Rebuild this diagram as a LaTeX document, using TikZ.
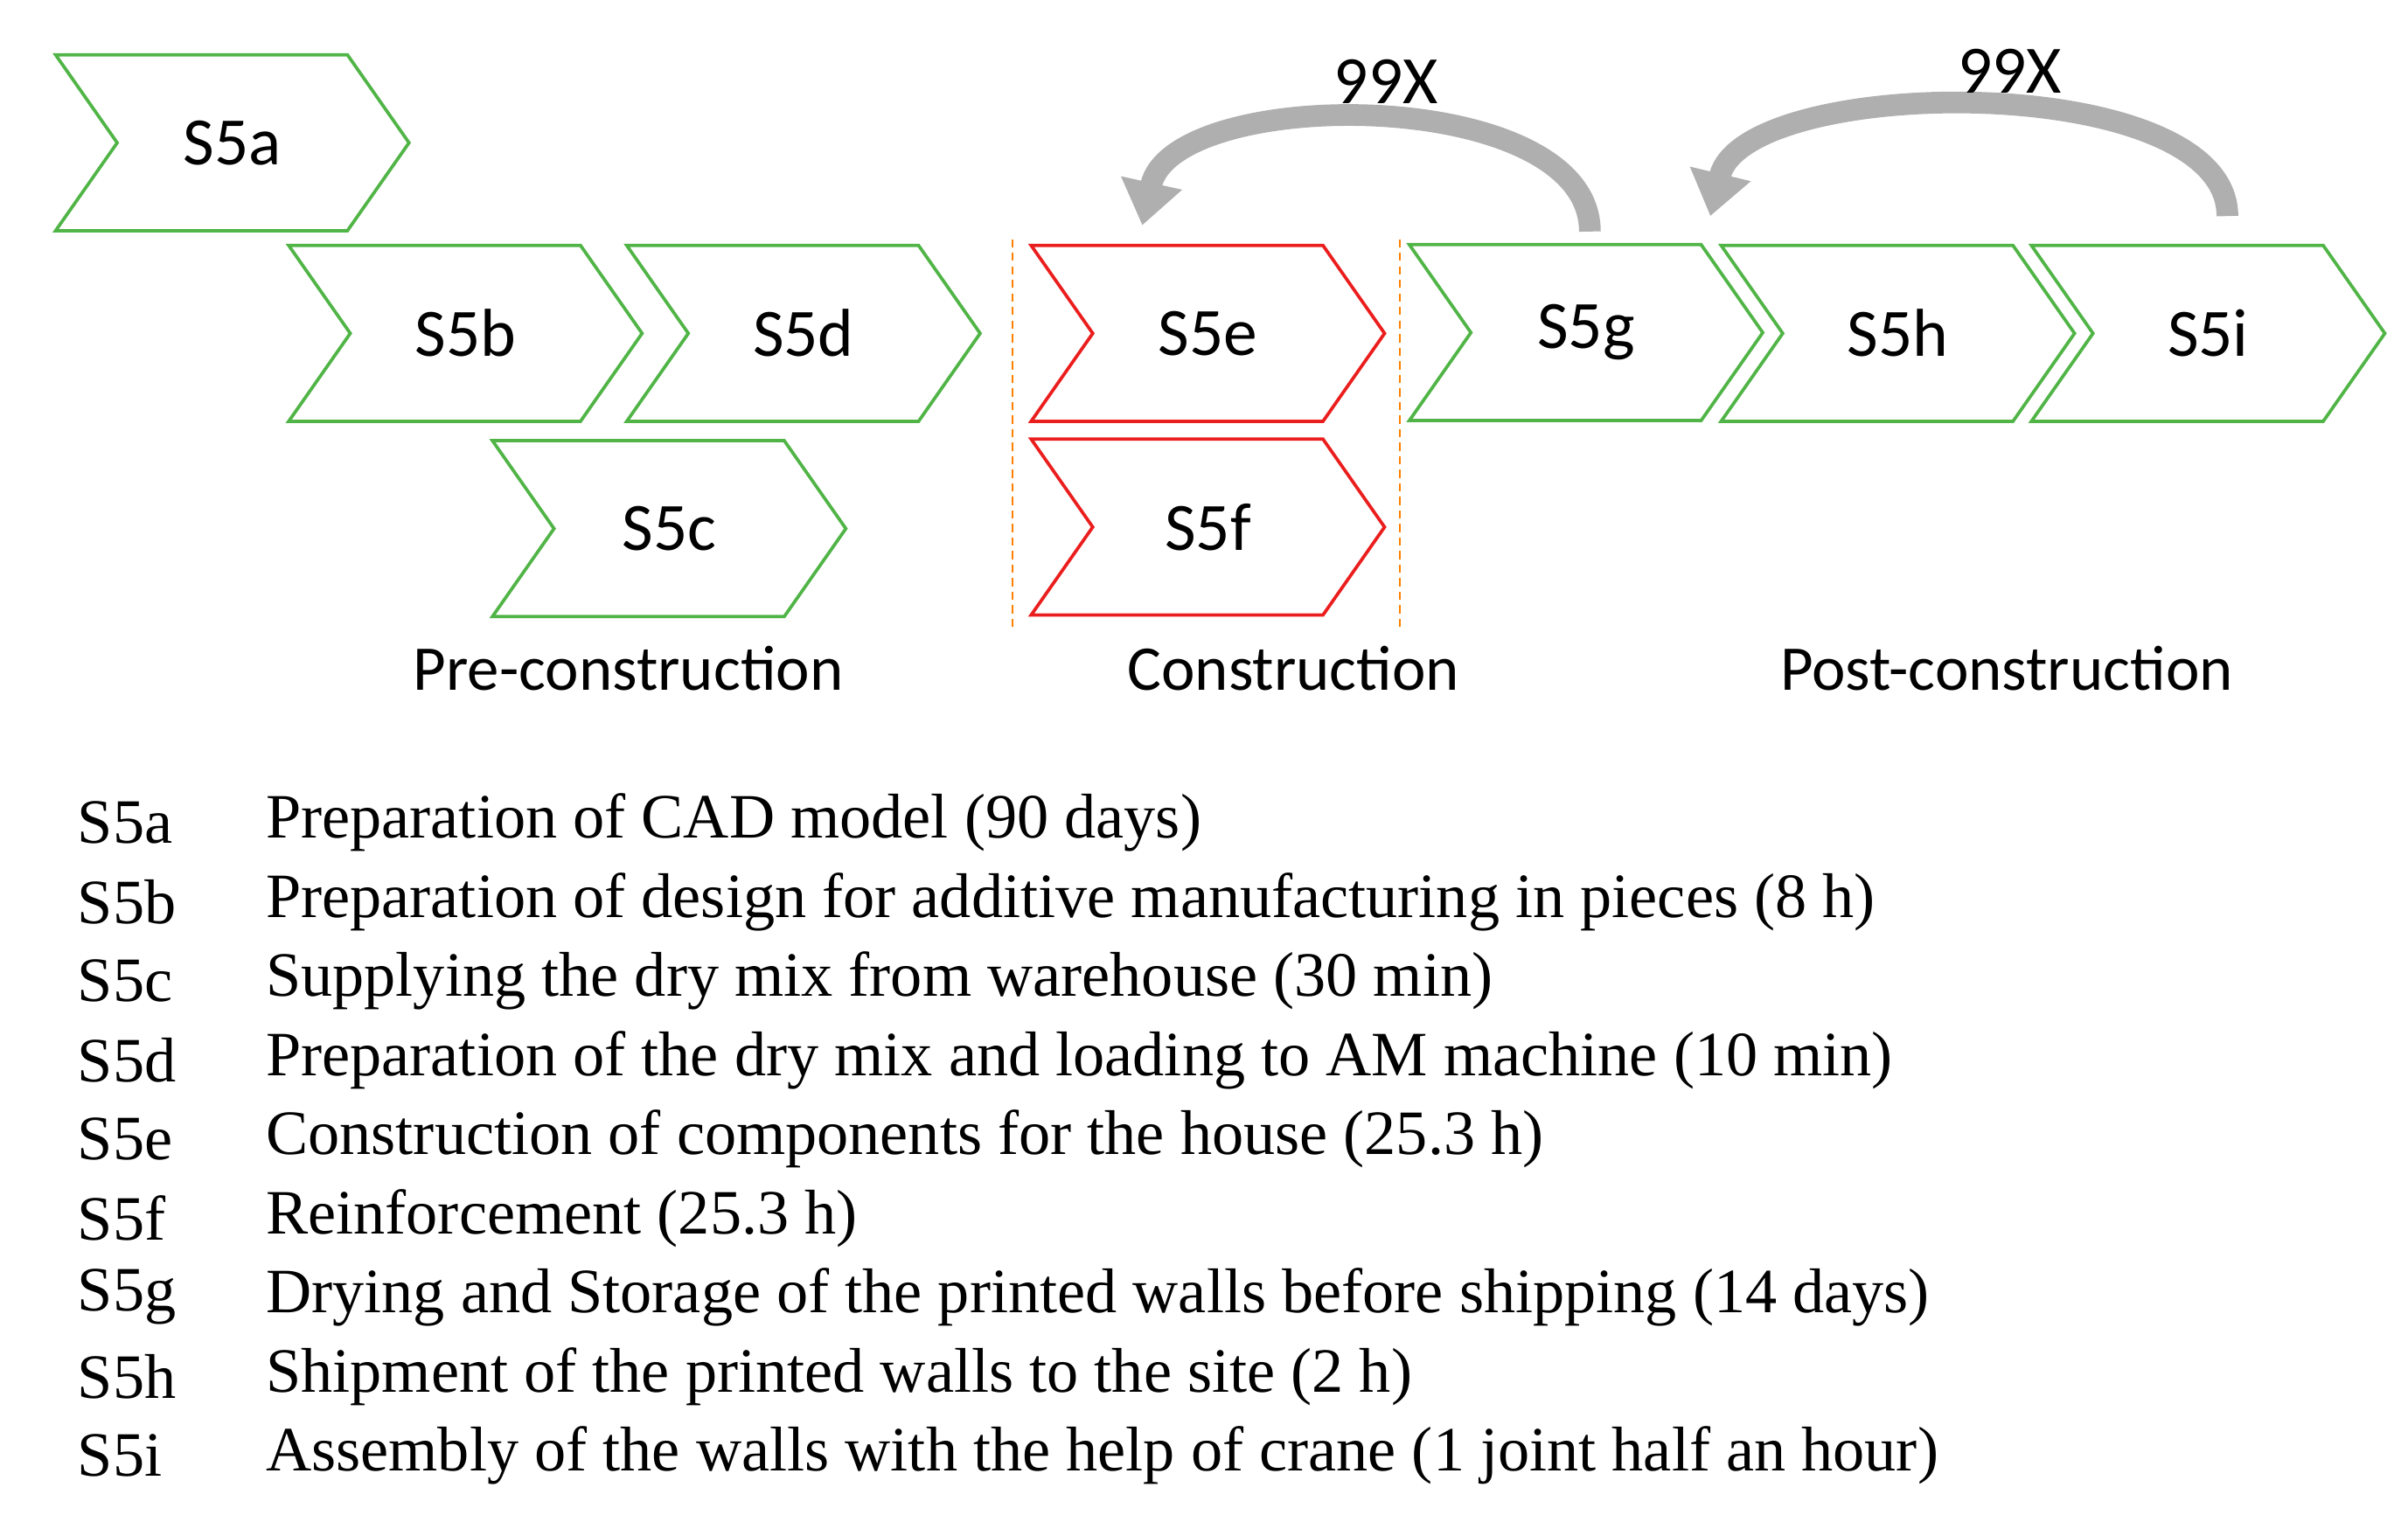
\documentclass[tikz,border=0pt]{standalone}
\usepackage{fontspec}
\setmainfont{Liberation Serif}
\newfontfamily\boxfont{Carlito}
\usetikzlibrary{shapes.symbols,arrows.meta}
\definecolor{stepgreen}{RGB}{80,180,70}
\definecolor{stepred}{RGB}{235,30,30}
\definecolor{looparrow}{RGB}{175,175,175}
\tikzset{
  chev/.style={signal, signal from=west, signal to=east, signal pointer angle=110,
    draw=stepgreen, line width=1.2pt, minimum width=4.58cm, minimum height=2.28cm,
    inner sep=0pt, font=\boxfont\fontsize{25}{29}\selectfont},
  redchev/.style={chev, draw=stepred},
  phase/.style={font=\boxfont\fontsize{23.5}{27}\selectfont},
  loop/.style={looparrow, line width=8pt, -{Triangle[length=16pt,width=22pt]}},
  code/.style={anchor=west, inner sep=0pt, font=\fontsize{23.3}{27}\selectfont},
}
\begin{document}
\begin{tikzpicture}[x=0.02cm, y=-0.02cm]
  \useasboundingbox (0,0) rectangle (1560,995);

  % process steps
  \node[chev]    (s5a) at (150.5, 92.5) {S5a};
  \node[chev]    (s5b) at (301.5,216)   {S5b};
  \node[chev]    (s5d) at (520.5,216)   {S5d};
  \node[chev]    (s5c) at (433.5,342.5) {S5c};
  \node[redchev] (s5e) at (782.5,216)   {S5e};
  \node[redchev] (s5f) at (782.5,341.5) {S5f};
  \node[chev]    (s5g) at (1027.5,215.5){S5g};
  \node[chev]    (s5h) at (1229.5,216)  {S5h};
  \node[chev]    (s5i) at (1430.5,216)  {S5i};

  % phase borders
  \draw[orange, densely dashed, line width=0.8pt] (656,155) -- (656,408);
  \draw[orange, densely dashed, line width=0.8pt] (907,155) -- (907,408);

  \node[phase] (pre)  at (407,433)  {Pre-construction};
  \node[phase] (con)  at (838,433)  {Construction};
  \node[phase] (post) at (1300,433) {Post-construction};

  % repeat loops
  \coordinate (g1) at (1030,150);
  \coordinate (e1) at (740,146);
  \coordinate (i1) at (1443,140);
  \coordinate (h1) at (1108,140);
  \draw[loop] (g1) .. controls (1030,55) and (760,55) .. (e1);
  \draw[loop] (i1) .. controls (1443,45) and (1130,48) .. (h1);
  \node[phase, font=\boxfont\fontsize{25}{29}\selectfont] (n1) at (898,53) {99X};
  \node[phase, font=\boxfont\fontsize{25}{29}\selectfont] (n2) at (1302,46) {99X};

  % legend
  \foreach \id/\txt [count=\i from 0] in {
      S5a/Preparation of CAD model (90 days),
      S5b/Preparation of design for additive manufacturing in pieces (8 h),
      S5c/Supplying the dry mix from warehouse (30 min),
      S5d/Preparation of the dry mix and loading to AM machine (10 min),
      S5e/Construction of components for the house (25.3 h),
      S5f/Reinforcement (25.3 h),
      S5g/Drying and Storage of the printed walls before shipping (14 days),
      S5h/Shipment of the printed walls to the site (2 h),
      S5i/Assembly of the walls with the help of crane (1 joint half an hour)} {
    \node[code] (k\i) at (50,533+51.25*\i) {\id};
    \node[code] (d\i) at (172,533+51.25*\i) {\txt};
  }
\end{tikzpicture}
\end{document}
